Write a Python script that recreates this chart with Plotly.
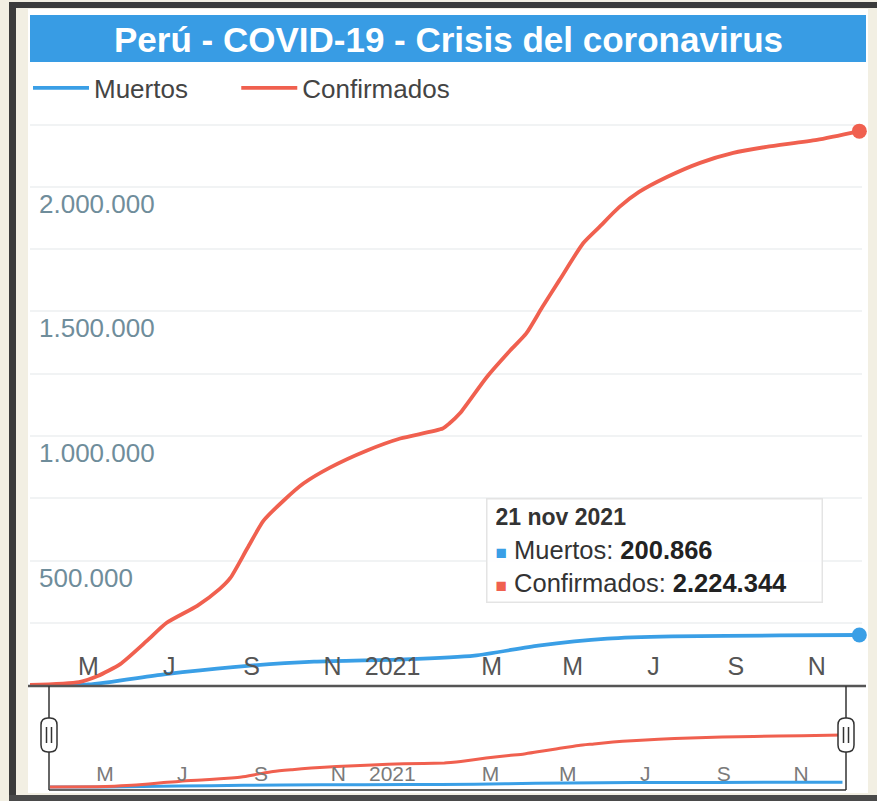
import plotly.graph_objects as go

# ---- data -------------------------------------------------------------
conf_dates = [
    "2020-03-06", "2020-04-12", "2020-04-26", "2020-05-13", "2020-06-02",
    "2020-06-17", "2020-07-10", "2020-07-27", "2020-08-04", "2020-08-17",
    "2020-08-29", "2020-09-13", "2020-09-28", "2020-10-18", "2020-11-15",
    "2020-12-10", "2021-01-11", "2021-01-16", "2021-01-24", "2021-02-13",
    "2021-03-03", "2021-03-15", "2021-03-27", "2021-04-09", "2021-04-27",
    "2021-05-09", "2021-05-24", "2021-06-08", "2021-06-29", "2021-07-24",
    "2021-08-18", "2021-09-12", "2021-10-20", "2021-11-21",
]
confirmados = [
    0, 12000, 36000, 84000, 177000,
    250000, 318000, 386000, 430000, 551000,
    660000, 740000, 809000, 873000, 942000,
    990000, 1030000, 1050000, 1091000, 1235000,
    1344000, 1412000, 1517000, 1626000, 1775000,
    1839000, 1919000, 1980000, 2040000, 2097000,
    2137000, 2161000, 2189000, 2224344,
]

muertos_dates = [
    "2020-03-06", "2020-04-19", "2020-06-15", "2020-08-06", "2020-10-06",
    "2020-12-13", "2021-02-04", "2021-03-24", "2021-05-15", "2021-07-03",
    "2021-09-22", "2021-11-21",
]
muertos = [
    0, 2000, 43000, 72000, 94000,
    103000, 118000, 158000, 186000, 195000,
    199000, 200866,
]

tick_dates = [
    "2020-05-01", "2020-07-01", "2020-09-01", "2020-11-01", "2021-01-01",
    "2021-03-01", "2021-05-01", "2021-07-01", "2021-09-01", "2021-11-01",
]
tick_text = ["M", "J", "S", "N", "2021", "M", "M", "J", "S", "N"]
y_ticks = [500000, 1000000, 1500000, 2000000]

x_range = ["2020-03-06", "2021-11-23"]

BLUE = "#3a9fe6"
RED = "#f0604f"
TITLE_BG = "#389ce4"
GRID = "#f1f3f4"
FONT = "Liberation Sans, Arial, sans-serif"

W, H = 877, 801


def px_x(v):
    return v / W


def px_y(v):
    return 1 - v / H


def fmt(n):
    return f"{n:,}".replace(",", ".")


nb = "\u00a0"
fig = go.Figure()

# main chart
fig.add_trace(go.Scatter(
    x=muertos_dates, y=muertos, name="Muertos" + nb * 6, mode="lines",
    line=dict(color=BLUE, width=3.8, shape="spline", smoothing=0.6),
    hoverinfo="skip", xaxis="x", yaxis="y",
))
fig.add_trace(go.Scatter(
    x=conf_dates, y=confirmados, name="Confirmados", mode="lines",
    line=dict(color=RED, width=3.8, shape="spline", smoothing=0.6),
    hoverinfo="skip", xaxis="x", yaxis="y",
))
fig.add_trace(go.Scatter(
    x=[muertos_dates[-1]], y=[muertos[-1]], mode="markers",
    marker=dict(color=BLUE, size=15), showlegend=False, cliponaxis=False,
    hoverinfo="skip", xaxis="x", yaxis="y",
))
fig.add_trace(go.Scatter(
    x=[conf_dates[-1]], y=[confirmados[-1]], mode="markers",
    marker=dict(color=RED, size=15), showlegend=False, cliponaxis=False,
    hoverinfo="skip", xaxis="x", yaxis="y",
))

# navigator
fig.add_trace(go.Scatter(
    x=muertos_dates, y=muertos, mode="lines", showlegend=False,
    line=dict(color=BLUE, width=3, shape="spline", smoothing=0.6),
    hoverinfo="skip", xaxis="x2", yaxis="y2",
))
fig.add_trace(go.Scatter(
    x=conf_dates, y=confirmados, mode="lines", showlegend=False,
    line=dict(color=RED, width=3, shape="spline", smoothing=0.6),
    hoverinfo="skip", xaxis="x2", yaxis="y2",
))

main_ticktext = [t + nb * 6 if t == "2021" else t for t in tick_text]
nav_ticktext = [t + nb * 8 if t == "2021" else t for t in tick_text]

shapes = [
    # white chart card on the cream page
    dict(type="rect", xref="paper", yref="paper", layer="below",
         x0=px_x(28), x1=px_x(868), y0=px_y(793), y1=px_y(9),
         fillcolor="white", line=dict(width=0)),
    # dark frame edges
    dict(type="rect", xref="paper", yref="paper",
         x0=px_x(9), x1=px_x(877), y0=px_y(8), y1=px_y(2),
         fillcolor="#3b3b3b", line=dict(width=0)),
    dict(type="rect", xref="paper", yref="paper",
         x0=px_x(9), x1=px_x(16), y0=px_y(801), y1=px_y(2),
         fillcolor="#3b3b3b", line=dict(width=0)),
    dict(type="rect", xref="paper", yref="paper",
         x0=px_x(9), x1=px_x(877), y0=px_y(801), y1=px_y(795),
         fillcolor="#4a4a4a", line=dict(width=0)),
    # title band
    dict(type="rect", xref="paper", yref="paper", layer="below",
         x0=px_x(30), x1=px_x(866), y0=px_y(62), y1=px_y(15),
         fillcolor=TITLE_BG, line=dict(width=0)),
    # x axis line of the main chart
    dict(type="line", xref="paper", yref="paper",
         x0=px_x(28), x1=px_x(866), y0=px_y(686), y1=px_y(686),
         line=dict(color="#555555", width=2.5)),
    # navigator outline
    dict(type="line", xref="paper", yref="paper",
         x0=px_x(49), x1=px_x(49), y0=px_y(686), y1=px_y(790),
         line=dict(color="#333333", width=1.5)),
    dict(type="line", xref="paper", yref="paper",
         x0=px_x(846), x1=px_x(846), y0=px_y(686), y1=px_y(790),
         line=dict(color="#333333", width=1.5)),
    dict(type="line", xref="paper", yref="paper",
         x0=px_x(49), x1=px_x(846), y0=px_y(790), y1=px_y(790),
         line=dict(color="#333333", width=1.5)),
]


def handle(cx, cy, w=16, h=34, r=7):
    x0, x1 = cx - w / 2, cx + w / 2
    y0, y1 = cy - h / 2, cy + h / 2
    pts = [
        ("M", x0 + r, y0), ("L", x1 - r, y0), ("Q", x1, y0, x1, y0 + r),
        ("L", x1, y1 - r), ("Q", x1, y1, x1 - r, y1), ("L", x0 + r, y1),
        ("Q", x0, y1, x0, y1 - r), ("L", x0, y0 + r), ("Q", x0, y0, x0 + r, y0),
    ]
    parts = []
    for p in pts:
        if p[0] == "Q":
            parts.append(f"Q{px_x(p[1])},{px_y(p[2])} {px_x(p[3])},{px_y(p[4])}")
        else:
            parts.append(f"{p[0]}{px_x(p[1])},{px_y(p[2])}")
    body = dict(type="path", xref="paper", yref="paper",
                path=" ".join(parts) + " Z", fillcolor="white",
                line=dict(color="#333333", width=1.5))
    bars = [dict(type="line", xref="paper", yref="paper",
                 x0=px_x(cx + dx), x1=px_x(cx + dx),
                 y0=px_y(cy - 8), y1=px_y(cy + 8),
                 line=dict(color="#333333", width=1.5)) for dx in (-2.5, 2.5)]
    return [body] + bars


shapes += handle(49, 735) + handle(846, 735)

tooltip = (
    f"<span style='font-size:23px'><b>21 nov 2021</b></span><br>"
    f"<span style='color:{BLUE};font-size:19px'>■</span> Muertos: "
    f"<b style='color:#222'>{fmt(muertos[-1])}</b><br>"
    f"<span style='color:{RED};font-size:19px'>■</span> Confirmados: "
    f"<b style='color:#222'>{fmt(confirmados[-1])}</b>"
)

annotations = [
    dict(text="<b>Perú - COVID-19 - Crisis del coronavirus</b>",
         xref="paper", yref="paper", x=px_x(448), y=px_y(39),
         xanchor="center", yanchor="middle", showarrow=False,
         font=dict(family=FONT, size=35, color="white")),
    dict(text=tooltip, xref="paper", yref="paper",
         x=px_x(486), y=px_y(498), xanchor="left", yanchor="top",
         showarrow=False, align="left", width=318, height=86,
         bgcolor="rgba(255,255,255,0.92)", bordercolor="#e4e4e4",
         borderwidth=1.5, borderpad=8,
         font=dict(family=FONT, size=25.5, color="#333333")),
]

# y tick labels sit just below their gridlines, inside the plot
for v in y_ticks:
    annotations.append(dict(
        text=fmt(v), xref="paper", yref="y", x=px_x(37), y=v,
        xanchor="left", yanchor="middle", yshift=-17, showarrow=False,
        font=dict(family=FONT, size=26, color="#6f8d9b"),
    ))

fig.update_layout(
    width=W, height=H, autosize=False,
    margin=dict(l=0, r=0, t=0, b=0),
    paper_bgcolor="#f2efe3", plot_bgcolor="rgba(0,0,0,0)",
    separators=",.",
    font=dict(family=FONT, color="#444444"),
    showlegend=True,
    legend=dict(orientation="h", x=px_x(28), y=px_y(88),
                xanchor="left", yanchor="middle",
                font=dict(family=FONT, size=26, color="#444444"),
                bgcolor="rgba(0,0,0,0)", itemwidth=56),
    xaxis=dict(domain=[px_x(30), px_x(862)], range=x_range, type="date",
               anchor="y", tickvals=tick_dates, ticktext=main_ticktext,
               ticklabelposition="inside", ticks="", ticklabelshift=-16,
               ticklabelstandoff=2,
               showgrid=False, zeroline=False, showline=False,
               tickfont=dict(family=FONT, size=25, color="#555555")),
    yaxis=dict(domain=[px_y(685), px_y(110)], range=[0, 2309200],
               anchor="x", tickvals=y_ticks, showticklabels=False, ticks="",
               showgrid=True, gridcolor=GRID, gridwidth=1.5,
               minor=dict(dtick=250000, tick0=0, showgrid=True,
                          gridcolor=GRID, gridwidth=1.5),
               zeroline=False, showline=False),
    xaxis2=dict(domain=[px_x(50), px_x(845)], range=x_range, type="date",
                anchor="y2", tickvals=tick_dates, ticktext=nav_ticktext,
                ticklabelposition="inside", ticks="", ticklabelshift=-16,
                ticklabelstandoff=2,
                showgrid=False, zeroline=False, showline=False,
                tickfont=dict(family=FONT, size=21, color="#7a7a7a")),
    yaxis2=dict(domain=[px_y(790), px_y(688)], range=[-128000, 4230000],
                anchor="x2", showticklabels=False, showgrid=False,
                zeroline=False, showline=False),
    shapes=shapes,
    annotations=annotations,
)

fig.write_html("out.html")
